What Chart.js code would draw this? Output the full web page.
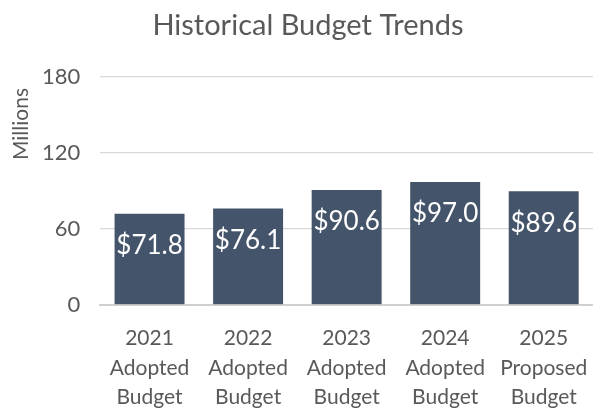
<!DOCTYPE html>
<html>
<head>
<meta charset="utf-8">
<script src="https://cdn.jsdelivr.net/npm/chart.js@4/dist/chart.umd.min.js"></script>
<style>
  html, body { margin: 0; padding: 0; background: #fff; }
  #wrap { width: 593px; height: 408px; }
</style>
</head>
<body>
<div id="wrap"><canvas id="chart"></canvas></div>
<script>
// data
const categories = [
  ['2021', 'Adopted', 'Budget'],
  ['2022', 'Adopted', 'Budget'],
  ['2023', 'Adopted', 'Budget'],
  ['2024', 'Adopted', 'Budget'],
  ['2025', 'Proposed', 'Budget']
];
const budgetMillions = [71.8, 76.1, 90.6, 97.0, 89.6];
const yTicks = [0, 60, 120, 180];

const fontFamily = "Lato, 'Open Sans', sans-serif";
const textGray = '#595959';

// white value labels inside the top of each bar
const barLabels = {
  id: 'barLabels',
  afterDatasetsDraw(chart) {
    const ctx = chart.ctx;
    const meta = chart.getDatasetMeta(0);
    ctx.save();
    ctx.fillStyle = '#ffffff';
    ctx.font = '26px ' + fontFamily;
    ctx.textAlign = 'center';
    ctx.textBaseline = 'middle';
    meta.data.forEach((bar, i) => {
      ctx.fillText('$' + budgetMillions[i].toFixed(1), bar.x, bar.y + 32);
    });
    ctx.restore();
  }
};

// "Millions" axis title, sits higher than centre like the original
const yTitle = {
  id: 'yTitle',
  afterDraw(chart) {
    const ctx = chart.ctx;
    ctx.save();
    ctx.fillStyle = textGray;
    ctx.font = '21px ' + fontFamily;
    ctx.translate(21, 124);
    ctx.rotate(-Math.PI / 2);
    ctx.textAlign = 'center';
    ctx.textBaseline = 'middle';
    ctx.fillText('Millions', 0, 0);
    ctx.restore();
  }
};

new Chart(document.getElementById('chart'), {
  type: 'bar',
  data: {
    labels: categories,
    datasets: [{
      data: budgetMillions,
      backgroundColor: '#44546a',
      categoryPercentage: 0.71,
      barPercentage: 1.0
    }]
  },
  options: {
    responsive: true,
    maintainAspectRatio: false,
    animation: false,
    layout: { padding: { left: 22, right: -1, top: 0, bottom: -15 } },
    plugins: {
      legend: { display: false },
      tooltip: { enabled: false },
      title: {
        display: true,
        text: 'Historical Budget Trends',
        color: textGray,
        font: { family: fontFamily, size: 29, weight: 'normal' },
        padding: { top: 8, bottom: 34 }
      }
    },
    scales: {
      y: {
        min: 0,
        max: 180,
        afterBuildTicks(axis) { axis.ticks = yTicks.map(v => ({ value: v })); },
        border: { display: false },
        grid: { color: '#d9d9d9', lineWidth: 1.3, drawTicks: false },
        ticks: { color: textGray, padding: 20, font: { family: fontFamily, size: 22 } }
      },
      x: {
        afterFit(axis) { axis.paddingRight = 0; axis.paddingLeft = 0; },
        border: { display: true, color: '#d0d0d0', width: 2 },
        grid: { display: false },
        ticks: { color: textGray, padding: 11, maxRotation: 0, font: { family: fontFamily, size: 21, lineHeight: 1.4 } }
      }
    }
  },
  plugins: [barLabels, yTitle]
});
</script>
</body>
</html>
